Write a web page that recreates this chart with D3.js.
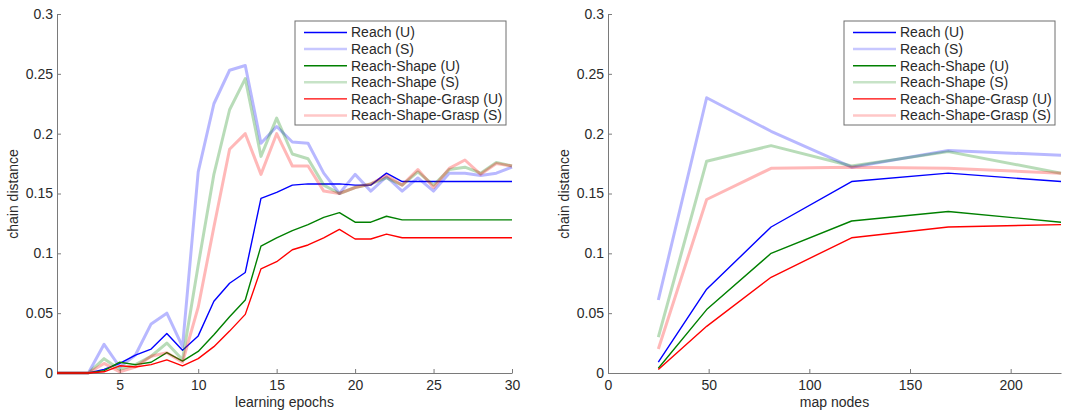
<!DOCTYPE html>
<html>
<head>
<meta charset="utf-8">
<script src="https://d3js.org/d3.v7.min.js"></script>
<style>
  body { margin: 0; background: #fff; }
  svg { font-family: "Liberation Sans", Arial, sans-serif; }
  .axis path, .axis line { stroke: #7a7a7a; }
  .axis text { fill: #2a2a2a; font-size: 14px; }
  .label { fill: #2a2a2a; font-size: 14px; }
  .legend text { fill: #2a2a2a; font-size: 14px; }
</style>
</head>
<body>
<svg id="chart" width="1065" height="411"></svg>
<script>
// series names and colours (U = solid, S = light / translucent)
var seriesNames = ["Reach (U)", "Reach (S)", "Reach-Shape (U)", "Reach-Shape (S)", "Reach-Shape-Grasp (U)", "Reach-Shape-Grasp (S)"];
var seriesColors = ["#0000ff", "#0000ff", "#008000", "#008000", "#ff0000", "#ff0000"];

// left panel: learning epochs
var epochs = [1,2,3,4,5,6,7,8,9,10,11,12,13,14,15,16,17,18,19,20,21,22,23,24,25,26,27,28,29,30];
var reachU = [0,0,0,0.003,0.008,0.015,0.020,0.033,0.019,0.031,0.060,0.075,0.084,0.146,0.151,0.157,0.158,0.158,0.158,0.157,0.157,0.167,0.160,0.160,0.160,0.160,0.160,0.160,0.160,0.160];
var reachS = [0,0,0,0.024,0.005,0.015,0.041,0.050,0.022,0.168,0.225,0.253,0.257,0.192,0.206,0.193,0.192,0.167,0.150,0.166,0.152,0.164,0.152,0.163,0.152,0.167,0.167,0.165,0.167,0.172];
var shapeU = [0,0,0,0.002,0.009,0.007,0.009,0.017,0.010,0.018,0.032,0.047,0.061,0.106,0.113,0.119,0.124,0.130,0.134,0.126,0.126,0.131,0.128,0.128,0.128,0.128,0.128,0.128,0.128,0.128];
var shapeS = [0,0,0,0.012,0.003,0.007,0.014,0.025,0.011,0.090,0.166,0.220,0.246,0.181,0.213,0.183,0.179,0.157,0.150,0.155,0.158,0.163,0.157,0.168,0.157,0.170,0.172,0.167,0.176,0.173];
var graspU = [0,0,0,0.001,0.006,0.005,0.007,0.011,0.006,0.012,0.022,0.035,0.049,0.087,0.093,0.103,0.107,0.113,0.120,0.112,0.112,0.116,0.113,0.113,0.113,0.113,0.113,0.113,0.113,0.113];
var graspS = [0,0,0,0.008,0.001,0.005,0.014,0.017,0.009,0.055,0.122,0.187,0.200,0.166,0.200,0.173,0.173,0.152,0.150,0.155,0.158,0.165,0.157,0.170,0.155,0.171,0.178,0.166,0.175,0.173];

// right panel: map nodes
var nodes = [25, 49, 81, 121, 169, 225];
var nReachU = [0.009, 0.070, 0.122, 0.160, 0.167, 0.160];
var nReachS = [0.061, 0.230, 0.202, 0.172, 0.186, 0.182];
var nShapeU = [0.004, 0.053, 0.100, 0.127, 0.135, 0.126];
var nShapeS = [0.030, 0.177, 0.190, 0.173, 0.185, 0.167];
var nGraspU = [0.003, 0.039, 0.080, 0.113, 0.122, 0.124];
var nGraspS = [0.020, 0.145, 0.171, 0.172, 0.171, 0.167];

var yTicks = [0, 0.05, 0.1, 0.15, 0.2, 0.25, 0.3];
var leftXTicks = [5, 10, 15, 20, 25, 30];
var rightXTicks = [0, 50, 100, 150, 200];

var svg = d3.select("#chart");

function drawPanel(opt) {
  var x = d3.scaleLinear().domain(opt.xDomain).range([opt.left, opt.right]),
      y = d3.scaleLinear().domain([0, 0.3]).range([373, 14]);

  var g = svg.append("g");

  g.append("g")
      .attr("class", "axis")
      .attr("transform", "translate(0,373)")
      .call(d3.axisBottom(x).tickValues(opt.xTicks).tickSizeInner(-4).tickSizeOuter(0).tickPadding(7).tickFormat(d3.format("d")))
      .call(function(a) { a.selectAll("text").style("font-size", "14px").style("font-family", null); });

  g.append("g")
      .attr("class", "axis")
      .attr("transform", "translate(" + opt.left + ",0)")
      .call(d3.axisLeft(y).tickValues(yTicks).tickSizeInner(-4).tickSizeOuter(0).tickPadding(4).tickFormat(function(d) { return String(+d.toFixed(2)); }))
      .call(function(a) { a.selectAll("text").style("font-size", "14px").style("font-family", null); });

  // S lines thick and translucent, U lines thin
  var line = d3.line()
      .x(function(d) { return x(d[0]); })
      .y(function(d) { return y(d[1]); });

  opt.series.forEach(function(vals, i) {
    var pts = opt.xs.map(function(xv, j) { return [xv, vals[j]]; });
    var light = i % 2 === 1;
    g.append("path")
        .datum(pts)
        .attr("fill", "none")
        .attr("stroke", seriesColors[i])
        .attr("stroke-opacity", light ? 0.28 : 1)
        .attr("stroke-width", light ? 3 : 1.4)
        .attr("stroke-linejoin", "round")
        .attr("d", line);
  });

  g.append("text")
      .attr("class", "label")
      .attr("x", (opt.left + opt.right) / 2)
      .attr("y", 407)
      .attr("text-anchor", "middle")
      .text(opt.xLabel);

  g.append("text")
      .attr("class", "label")
      .attr("transform", "translate(" + (opt.left - 39) + ",194) rotate(-90)")
      .attr("text-anchor", "middle")
      .text("chain distance");

  // legend box
  var lx = opt.right - 217, ly = 21;
  var legend = g.append("g").attr("class", "legend").attr("transform", "translate(" + lx + "," + ly + ")");
  legend.append("rect")
      .attr("width", 211)
      .attr("height", 104)
      .attr("fill", "#fff")
      .attr("stroke", "#6e6e6e")
      .attr("stroke-width", 1);

  var rows = legend.selectAll(".row")
      .data(seriesNames)
    .enter().append("g")
      .attr("class", "row")
      .attr("transform", function(d, i) { return "translate(0," + (11.5 + i * 16.6) + ")"; });

  rows.append("line")
      .attr("x1", 9)
      .attr("x2", 52)
      .attr("stroke", function(d, i) { return seriesColors[i]; })
      .attr("stroke-opacity", function(d, i) { return i % 2 ? 0.22 : 1; })
      .attr("stroke-width", function(d, i) { return i % 2 ? 2.5 : 1.4; });

  rows.append("text")
      .attr("x", 56)
      .attr("dy", "0.35em")
      .text(String);
}

drawPanel({
  left: 57, right: 512, xDomain: [1, 30], xTicks: leftXTicks, xs: epochs,
  series: [reachU, reachS, shapeU, shapeS, graspU, graspS],
  xLabel: "learning epochs"
});

drawPanel({
  left: 608, right: 1061, xDomain: [0, 225], xTicks: rightXTicks, xs: nodes,
  series: [nReachU, nReachS, nShapeU, nShapeS, nGraspU, nGraspS],
  xLabel: "map nodes"
});
</script>
</body>
</html>
